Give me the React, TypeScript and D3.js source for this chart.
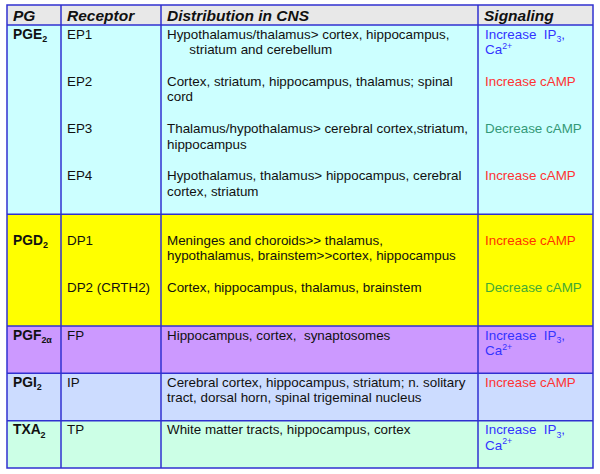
import React from 'react';
import * as d3 from 'd3';

// table content, markup: _{..} subscript, ^{..} superscript
const headers = ['PG', 'Receptor', 'Distribution in CNS', 'Signaling'];
const pgNames = ['PGE_{2}', 'PGD_{2}', 'PGF_{2α}', 'PGI_{2}', 'TXA_{2}'];
const sectionColors = ['#ccffff', '#ffff00', '#cc99ff', '#ccdcff', '#ccffe6'];
const receptors = [
  ['EP1', 'EP2', 'EP3', 'EP4'],
  ['DP1', 'DP2 (CRTH2)'],
  ['FP'],
  ['IP'],
  ['TP'],
];
const distributions = [
  [
    ['Hypothalamus/thalamus> cortex, hippocampus,', '      striatum and cerebellum'],
    ['Cortex, striatum, hippocampus, thalamus; spinal', 'cord'],
    ['Thalamus/hypothalamus> cerebral cortex,striatum,', 'hippocampus'],
    ['Hypothalamus, thalamus> hippocampus, cerebral', 'cortex, striatum'],
  ],
  [
    ['Meninges and choroids>> thalamus,', 'hypothalamus, brainstem>>cortex, hippocampus'],
    ['Cortex, hippocampus, thalamus, brainstem'],
  ],
  [['Hippocampus, cortex,  synaptosomes']],
  [['Cerebral cortex, hippocampus, striatum; n. solitary', 'tract, dorsal horn, spinal trigeminal nucleus']],
  [['White matter tracts, hippocampus, cortex']],
];
const signaling = [
  [['Increase  IP_{3},', 'Ca^{2+}'], ['Increase cAMP'], ['Decrease cAMP'], ['Increase cAMP']],
  [['Increase cAMP'], ['Decrease cAMP']],
  [['Increase  IP_{3},', 'Ca^{2+}']],
  [['Increase cAMP']],
  [['Increase  IP_{3},', 'Ca^{2+}']],
];
const signalColors = [
  ['#3333ff', '#ff3333', '#339977', '#ff3333'],
  ['#ff3300', '#44aa33'],
  ['#3333ff'],
  ['#ff3333'],
  ['#3333ff'],
];

// layout
const W = 600;
const H = 474;
const left = 7, right = 593, top = 5, headerBottom = 25, bottom = 468;
const colEdges = [left, 61, 161, 478, right];
const sectionPad = [0, 0.36, 0, 0, 0];
const font = 'Arial, "Liberation Sans", Helvetica, sans-serif';
const border = '#3030d0';

function parse(s: string) {
  const parts: { t: string; m: string }[] = [];
  const re = /([_^])\{([^}]*)\}/g;
  let last = 0;
  let m;
  while ((m = re.exec(s))) {
    if (m.index > last) parts.push({ t: s.slice(last, m.index), m: 'n' });
    parts.push({ t: m[2], m: m[1] === '_' ? 'sub' : 'sup' });
    last = m.index + m[0].length;
  }
  if (last < s.length) parts.push({ t: s.slice(last), m: 'n' });
  return parts;
}

function Rich({ s, x, y, size, ...rest }: any) {
  const parts = parse(s);
  let cur = 0;
  return (
    <text x={x} y={y} fontSize={size} fontFamily={font} style={{ whiteSpace: 'pre' }} {...rest}>
      {parts.map((p, i) => {
        const off = p.m === 'sub' ? size * 0.25 : p.m === 'sup' ? -size * 0.4 : 0;
        const dy = off - cur;
        cur = off;
        return (
          <tspan key={i} dy={dy} fontSize={p.m === 'n' ? size : size * 0.65}>
            {p.t}
          </tspan>
        );
      })}
    </text>
  );
}

export default function App() {
  const units = receptors.map((r, i) => r.length + sectionPad[i]);
  const cum = [0, ...d3.cumsum(units)];
  const y = d3.scaleLinear().domain([0, cum[cum.length - 1]]).range([headerBottom, bottom]);
  const fs = 13.4;
  const lh = 15.5;

  return (
    <svg width={W} height={H} style={{ position: 'absolute', left: 0, top: 0, background: '#fff' }}>
      <rect x={left} y={top} width={right - left} height={headerBottom - top} fill="#e8e8e8" />
      {pgNames.map((pg, i) => (
        <rect key={pg} x={left} y={y(cum[i])} width={right - left} height={y(cum[i + 1]) - y(cum[i])} fill={sectionColors[i]} />
      ))}
      {headers.map((h, i) => (
        <text key={h} x={colEdges[i] + 6} y={top + 15.5} fontSize={15.5} fontWeight="bold" fontStyle="italic" fontFamily={font} fill="#111">
          {h}
        </text>
      ))}
      {pgNames.map((pg, i) => {
        const base = cum[i] + sectionPad[i];
        const first = y(base) + 13.5;
        return (
          <g key={pg}>
            <Rich s={pg} x={colEdges[0] + 6} y={first} size={13.8} fontWeight="bold" fill="#111" />
            {receptors[i].map((r, j) => {
              const by = y(base + j) + 13.5;
              return (
                <g key={r}>
                  <text x={colEdges[1] + 6} y={by} fontSize={fs} fontFamily={font} fill="#111">{r}</text>
                  {distributions[i][j].map((line, k) => (
                    <text key={k} x={colEdges[2] + 6} y={by + k * lh} fontSize={fs} fontFamily={font} fill="#111" style={{ whiteSpace: 'pre' }}>
                      {line}
                    </text>
                  ))}
                  {signaling[i][j].map((line, k) => (
                    <Rich key={k} s={line} x={colEdges[3] + 7} y={by + k * lh} size={fs} fill={signalColors[i][j]} />
                  ))}
                </g>
              );
            })}
          </g>
        );
      })}
      {/* grid lines */}
      <line x1={left} x2={right} y1={headerBottom} y2={headerBottom} stroke={border} strokeWidth={1.5} />
      {cum.slice(1, -1).map((c, i) => (
        <line key={i} x1={left} x2={right} y1={y(c)} y2={y(c)} stroke={border} strokeWidth={1.5} />
      ))}
      {colEdges.slice(1, -1).map((cx, i) => (
        <line key={i} x1={cx} x2={cx} y1={top} y2={bottom} stroke={border} strokeWidth={1.5} />
      ))}
      <rect x={left} y={top} width={right - left} height={bottom - top} fill="none" stroke={border} strokeWidth={1.5} />
    </svg>
  );
}
